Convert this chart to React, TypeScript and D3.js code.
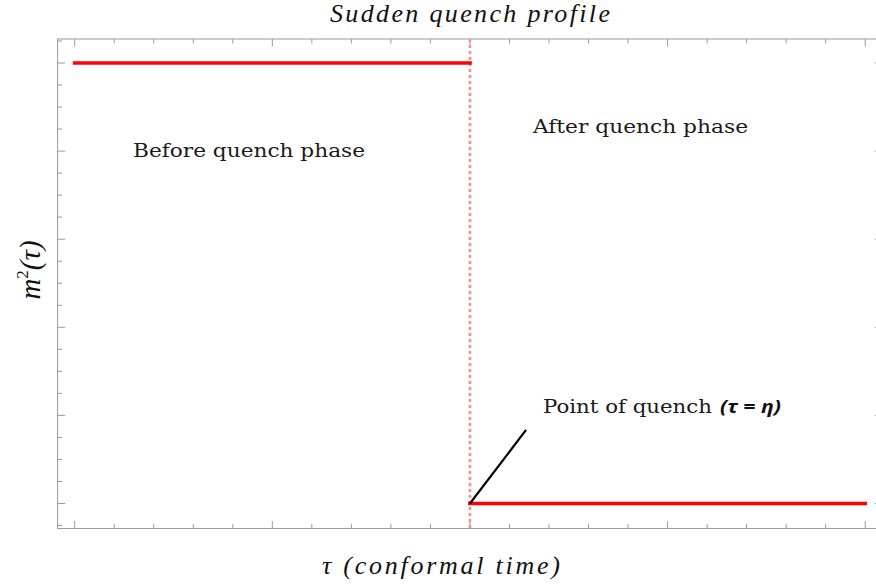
import React from "react";
import * as d3 from "d3";

// Data
const tauBefore = [0, 2];
const massBefore = [1, 1];
const tauAfter = [2, 4];
const massAfter = [0, 0];
const quenchTau = 2;
const xMajorTicks = [0, 1, 2, 3, 4];
const yMajorTicks = [0, 0.2, 0.4, 0.6, 0.8, 1];
const titleText = "Sudden quench profile";
const xLabelText = "τ (conformal time)";
const beforeLabel = "Before quench phase";
const afterLabel = "After quench phase";
const pointLabel = "Point of quench";
const pointLabelMath = "(τ = η)";

const W = 876;
const H = 587;

export default function App() {
  const xDom: [number, number] = [-0.0866, 4.0866];
  const yDom: [number, number] = [-0.0568, 1.0545];
  const x = d3.scaleLinear().domain([0, 4]).range([74.7, 865.2]);
  const y = d3.scaleLinear().domain([0, 1]).range([503.5, 63]);
  const left = x(xDom[0]);
  const right = x(xDom[1]);
  const top = y(yDom[1]);
  const bottom = y(yDom[0]);

  const xMinor = d3.range(-0.0, 4.0001, 0.2).map((v) => +v.toFixed(2)).filter((v) => !xMajorTicks.includes(v));
  const yMinor = d3.range(-0.05, 1.0501, 0.05).map((v) => +v.toFixed(2)).filter((v) => !yMajorTicks.some((m) => Math.abs(m - v) < 1e-6));

  const line = d3.line<[number, number]>().x((d) => x(d[0])).y((d) => y(d[1]));
  const before = tauBefore.map((t, i) => [t, massBefore[i]] as [number, number]);
  const after = tauAfter.map((t, i) => [t, massAfter[i]] as [number, number]);

  const axisColor = "#9a9a9a";
  const maj = 7.5;
  const min = 4.5;

  const serif = "'DejaVu Serif', serif";
  const italicSerif = "'Liberation Serif', serif";

  return (
    <svg width={W} height={H} style={{ position: "absolute", left: 0, top: 0, background: "#fff" }}>
      <rect x={0} y={0} width={W} height={H} fill="#fff" />
      {/* frame */}
      <rect x={left} y={top} width={right - left} height={bottom - top} fill="none" stroke={axisColor} strokeWidth={1} />
      {/* x ticks top & bottom */}
      {xMajorTicks.map((v) => (
        <g key={"xm" + v} stroke={axisColor} strokeWidth={1}>
          <line x1={x(v)} x2={x(v)} y1={top} y2={top + maj} />
          <line x1={x(v)} x2={x(v)} y1={bottom} y2={bottom - maj} />
        </g>
      ))}
      {xMinor.map((v) => (
        <g key={"xn" + v} stroke={axisColor} strokeWidth={1}>
          <line x1={x(v)} x2={x(v)} y1={top} y2={top + min} />
          <line x1={x(v)} x2={x(v)} y1={bottom} y2={bottom - min} />
        </g>
      ))}
      {/* y ticks left & right */}
      {yMajorTicks.map((v) => (
        <g key={"ym" + v} stroke={axisColor} strokeWidth={1}>
          <line x1={left} x2={left + maj} y1={y(v)} y2={y(v)} />
          <line x1={right} x2={right - maj} y1={y(v)} y2={y(v)} />
        </g>
      ))}
      {yMinor.map((v) => (
        <g key={"yn" + v} stroke={axisColor} strokeWidth={1}>
          <line x1={left} x2={left + min} y1={y(v)} y2={y(v)} />
          <line x1={right} x2={right - min} y1={y(v)} y2={y(v)} />
        </g>
      ))}
      {/* quench dotted line */}
      <line x1={x(quenchTau)} x2={x(quenchTau)} y1={top} y2={bottom} stroke="#ff8c8c" strokeWidth={2.6} strokeDasharray="3,3" />
      {/* profile */}
      <path d={line(before) || ""} fill="none" stroke="#ff0000" strokeWidth={3.7} strokeLinecap="square" />
      <path d={line(after) || ""} fill="none" stroke="#ff0000" strokeWidth={3.7} strokeLinecap="square" />
      {/* annotation pointer */}
      <line x1={x(quenchTau)} y1={y(0)} x2={x(2.284)} y2={y(0.167)} stroke="#000" strokeWidth={2.2} />
      {/* texts */}
      <text x={470} y={22} textAnchor="middle" fontFamily={italicSerif} fontStyle="italic" fontSize={26} textLength={280} lengthAdjust="spacing" fill="#111">
        {titleText}
      </text>
      <text x={441} y={574} textAnchor="middle" fontFamily={italicSerif} fontStyle="italic" fontSize={26} textLength={238} lengthAdjust="spacing" fill="#111">
        {xLabelText}
      </text>
      <text transform="translate(40,270) rotate(-90)" textAnchor="middle" fontFamily={italicSerif} fontStyle="italic" fontSize={29} fill="#111">
        m<tspan fontSize={17} dy={-12} fontStyle="normal">2</tspan>
        <tspan dy={12}>(τ)</tspan>
      </text>
      <text x={133} y={157} fontFamily={serif} fontSize={18.5} textLength={232} lengthAdjust="spacingAndGlyphs" fill="#1a1a1a">
        {beforeLabel}
      </text>
      <text x={533} y={133} fontFamily={serif} fontSize={18.5} textLength={215} lengthAdjust="spacingAndGlyphs" fill="#1a1a1a">
        {afterLabel}
      </text>
      <text x={543} y={413} fontFamily={serif} fontSize={18.5} textLength={169} lengthAdjust="spacingAndGlyphs" fill="#1a1a1a">
        {pointLabel}
      </text>
      <text x={720} y={413} fontFamily="'Open Sans', sans-serif" fontStyle="italic" fontWeight="bold" fontSize={18} textLength={61} lengthAdjust="spacingAndGlyphs" fill="#111">
        {pointLabelMath}
      </text>
    </svg>
  );
}
